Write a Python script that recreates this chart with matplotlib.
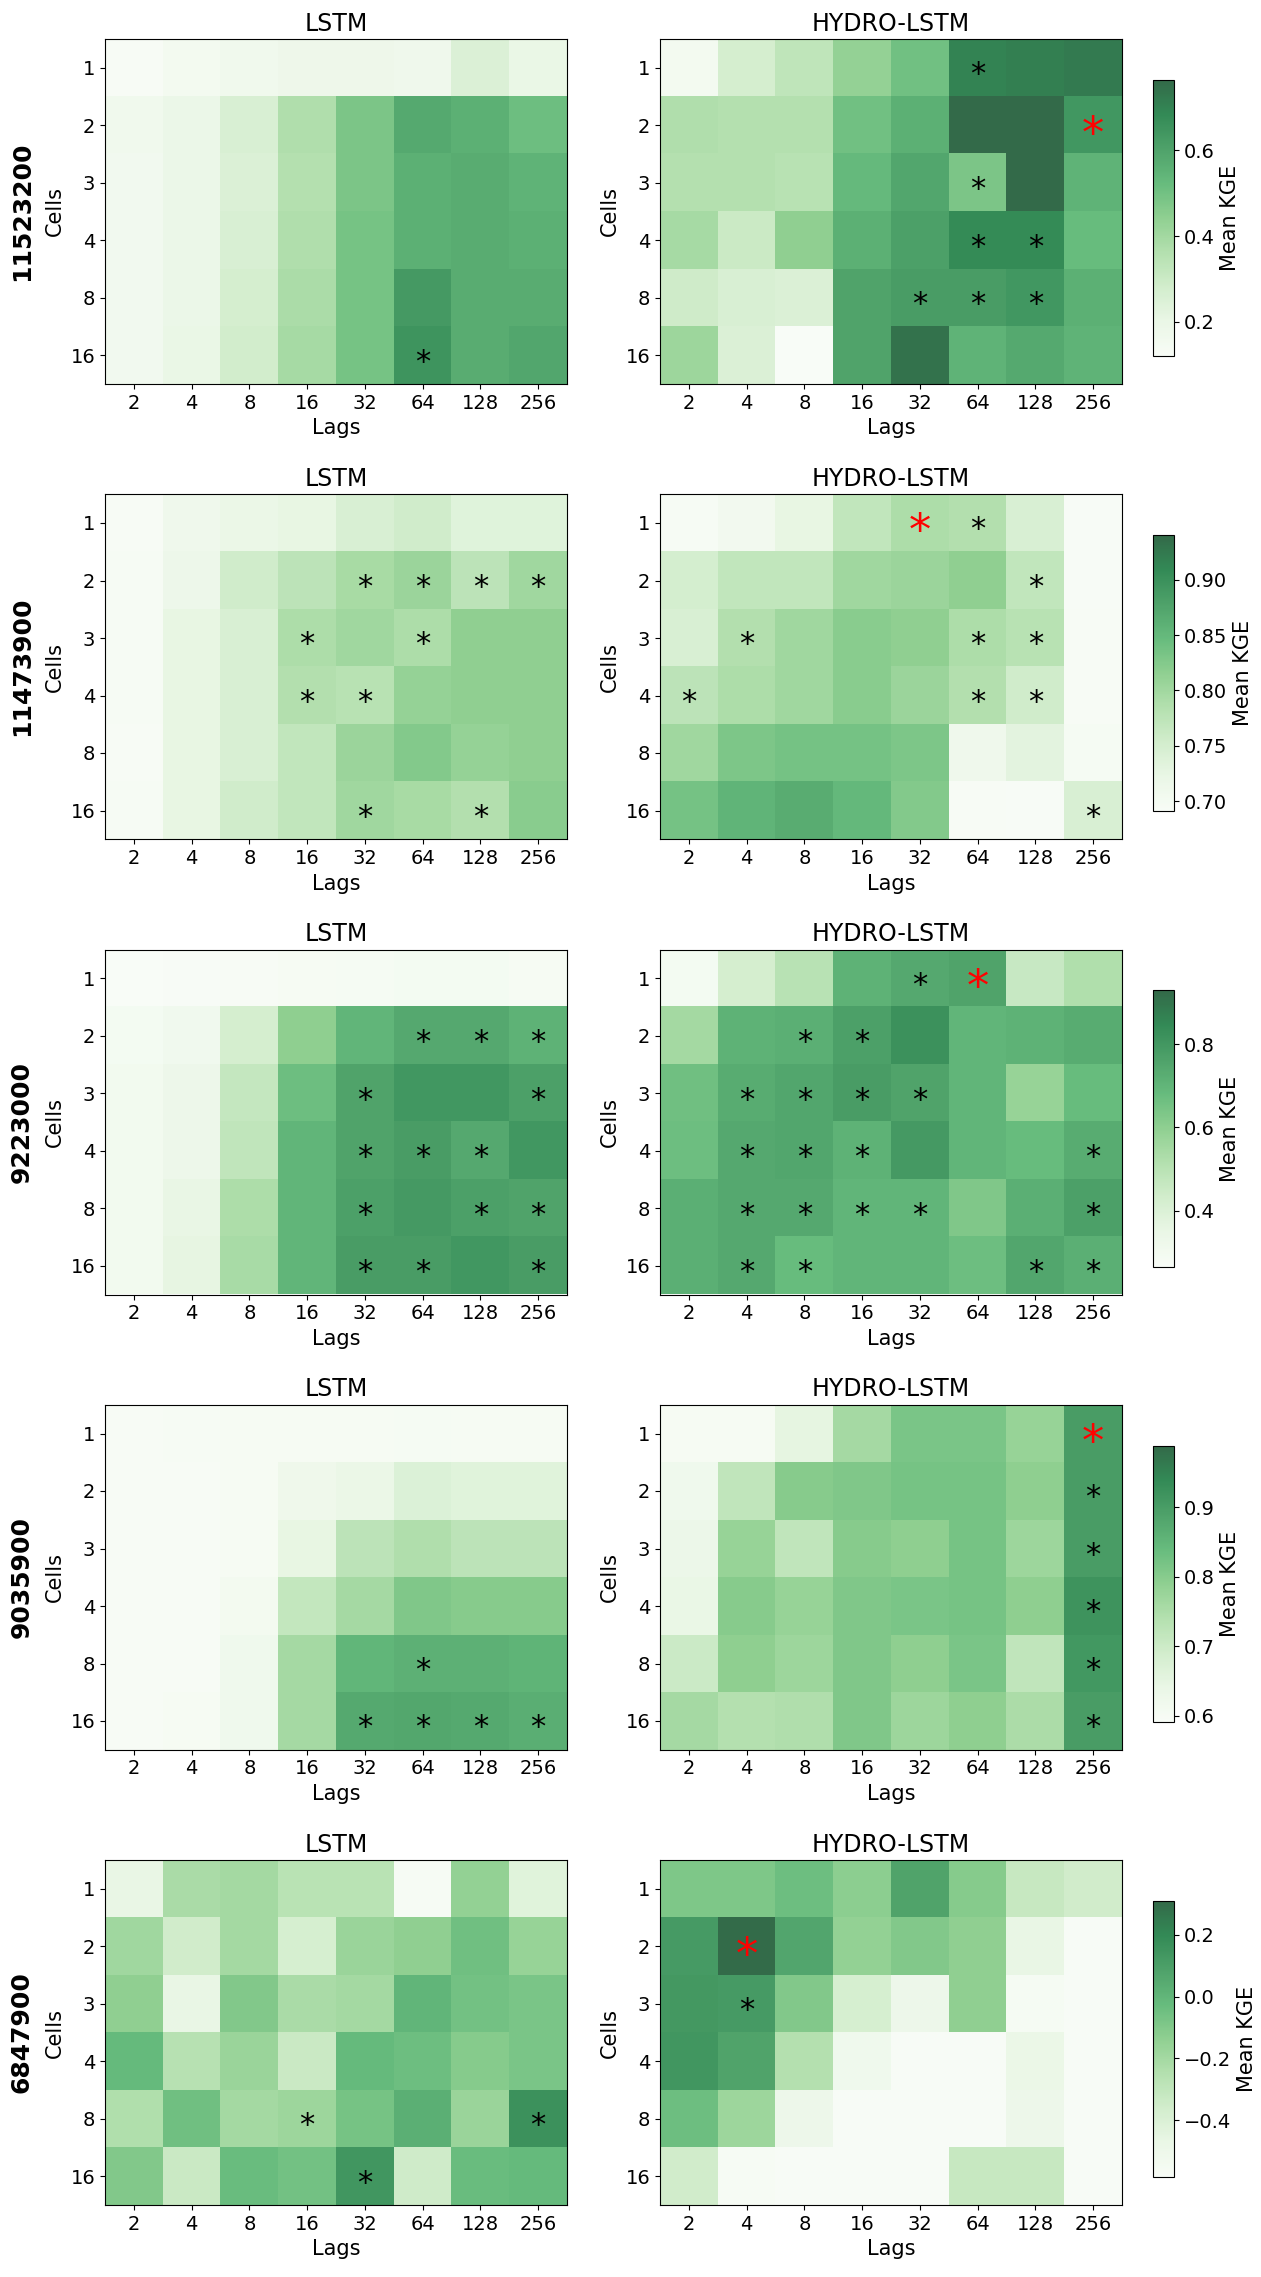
import numpy as np
import matplotlib.pyplot as plt

lags = [2, 4, 8, 16, 32, 64, 128, 256]
cells = [1, 2, 3, 4, 8, 16]
stations = ["11523200", "11473900", "9223000", "9035900", "6847900"]

# colorbar limits (min, max)
kge_limits = [(0.12, 0.764), (0.691, 0.94), (0.266, 0.929), (0.591, 0.989), (-0.584, 0.31)]
cbar_ticks = [[0.2, 0.4, 0.6], [0.70, 0.75, 0.80, 0.85, 0.90], [0.4, 0.6, 0.8],
              [0.6, 0.7, 0.8, 0.9], [-0.4, -0.2, 0.0, 0.2]]

# rows = cells, columns = lags
lstm_11523200 = [
    [0.13, 0.15, 0.165, 0.18, 0.18, 0.17, 0.25, 0.20],
    [0.165, 0.19, 0.26, 0.37, 0.48, 0.58, 0.56, 0.51],
    [0.16, 0.19, 0.25, 0.36, 0.48, 0.56, 0.57, 0.55],
    [0.16, 0.19, 0.26, 0.37, 0.49, 0.56, 0.57, 0.56],
    [0.16, 0.19, 0.27, 0.38, 0.49, 0.63, 0.57, 0.57],
    [0.16, 0.20, 0.28, 0.39, 0.49, 0.65, 0.57, 0.59],
]
hydro_11523200 = [
    [0.15, 0.27, 0.33, 0.43, 0.50, 0.70, 0.71, 0.72],
    [0.37, 0.36, 0.36, 0.50, 0.56, 0.76, 0.76, 0.64],
    [0.36, 0.36, 0.35, 0.53, 0.59, 0.48, 0.76, 0.55],
    [0.39, 0.30, 0.44, 0.56, 0.61, 0.68, 0.68, 0.52],
    [0.29, 0.26, 0.25, 0.60, 0.62, 0.62, 0.64, 0.56],
    [0.41, 0.25, 0.12, 0.60, 0.74, 0.55, 0.58, 0.55],
]
lstm_11473900 = [
    [0.693, 0.710, 0.720, 0.725, 0.745, 0.755, 0.735, 0.735],
    [0.695, 0.715, 0.755, 0.775, 0.795, 0.805, 0.775, 0.800],
    [0.695, 0.725, 0.745, 0.790, 0.800, 0.790, 0.815, 0.815],
    [0.695, 0.725, 0.745, 0.785, 0.780, 0.810, 0.815, 0.815],
    [0.693, 0.725, 0.745, 0.770, 0.805, 0.825, 0.810, 0.815],
    [0.695, 0.725, 0.755, 0.770, 0.800, 0.795, 0.785, 0.820],
]
hydro_11473900 = [
    [0.695, 0.705, 0.725, 0.770, 0.790, 0.785, 0.745, 0.692],
    [0.750, 0.770, 0.770, 0.800, 0.805, 0.815, 0.770, 0.692],
    [0.745, 0.785, 0.800, 0.820, 0.815, 0.790, 0.780, 0.693],
    [0.775, 0.790, 0.800, 0.820, 0.805, 0.785, 0.755, 0.693],
    [0.800, 0.830, 0.835, 0.835, 0.830, 0.710, 0.730, 0.697],
    [0.835, 0.855, 0.865, 0.850, 0.825, 0.693, 0.692, 0.745],
]
lstm_9223000 = [
    [0.268, 0.270, 0.275, 0.280, 0.285, 0.290, 0.290, 0.280],
    [0.290, 0.310, 0.420, 0.600, 0.700, 0.740, 0.740, 0.710],
    [0.300, 0.330, 0.470, 0.670, 0.760, 0.800, 0.800, 0.770],
    [0.300, 0.330, 0.480, 0.700, 0.760, 0.780, 0.740, 0.800],
    [0.300, 0.350, 0.530, 0.700, 0.770, 0.790, 0.770, 0.760],
    [0.300, 0.360, 0.540, 0.700, 0.780, 0.780, 0.800, 0.780],
]
hydro_9223000 = [
    [0.290, 0.420, 0.500, 0.710, 0.740, 0.760, 0.460, 0.520],
    [0.550, 0.710, 0.720, 0.770, 0.820, 0.700, 0.710, 0.730],
    [0.660, 0.730, 0.750, 0.780, 0.760, 0.700, 0.580, 0.680],
    [0.670, 0.740, 0.750, 0.710, 0.790, 0.700, 0.680, 0.730],
    [0.720, 0.740, 0.740, 0.700, 0.700, 0.630, 0.720, 0.770],
    [0.720, 0.740, 0.680, 0.700, 0.700, 0.670, 0.750, 0.720],
]
lstm_9035900 = [
    [0.597, 0.598, 0.599, 0.600, 0.600, 0.601, 0.600, 0.600],
    [0.595, 0.595, 0.600, 0.625, 0.635, 0.670, 0.660, 0.660],
    [0.595, 0.595, 0.600, 0.645, 0.725, 0.745, 0.725, 0.725],
    [0.595, 0.595, 0.610, 0.715, 0.760, 0.810, 0.800, 0.800],
    [0.595, 0.595, 0.620, 0.760, 0.850, 0.860, 0.860, 0.855],
    [0.596, 0.600, 0.620, 0.760, 0.875, 0.880, 0.875, 0.865],
]
hydro_9035900 = [
    [0.600, 0.600, 0.650, 0.760, 0.815, 0.815, 0.780, 0.900],
    [0.620, 0.720, 0.800, 0.810, 0.820, 0.820, 0.790, 0.900],
    [0.630, 0.780, 0.720, 0.800, 0.790, 0.820, 0.770, 0.900],
    [0.640, 0.800, 0.780, 0.810, 0.815, 0.820, 0.790, 0.920],
    [0.700, 0.790, 0.770, 0.810, 0.790, 0.815, 0.720, 0.910],
    [0.760, 0.740, 0.745, 0.810, 0.770, 0.790, 0.750, 0.900],
]
lstm_6847900 = [
    [-0.47, -0.22, -0.20, -0.27, -0.27, -0.57, -0.15, -0.43],
    [-0.19, -0.36, -0.20, -0.38, -0.17, -0.14, -0.05, -0.16],
    [-0.14, -0.47, -0.10, -0.22, -0.20, 0.00, -0.06, -0.08],
    [-0.02, -0.26, -0.17, -0.33, -0.02, -0.04, -0.11, -0.08],
    [-0.24, -0.05, -0.20, -0.18, -0.07, 0.03, -0.17, 0.16],
    [-0.10, -0.33, -0.03, -0.06, 0.14, -0.35, -0.03, -0.02],
]
hydro_6847900 = [
    [-0.09, -0.09, -0.04, -0.13, 0.08, -0.11, -0.32, -0.36],
    [0.12, 0.30, 0.07, -0.15, -0.10, -0.14, -0.47, -0.58],
    [0.13, 0.12, -0.10, -0.38, -0.50, -0.14, -0.56, -0.58],
    [0.14, 0.08, -0.25, -0.52, -0.58, -0.58, -0.48, -0.58],
    [-0.04, -0.18, -0.50, -0.58, -0.58, -0.58, -0.50, -0.58],
    [-0.36, -0.57, -0.58, -0.58, -0.58, -0.32, -0.32, -0.58],
]

# significance marks as (cells, lag)
stars_lstm = [
    [(16, 64)],
    [(2, 32), (2, 64), (2, 128), (2, 256), (3, 16), (3, 64), (4, 16), (4, 32), (16, 32), (16, 128)],
    [(2, 64), (2, 128), (2, 256), (3, 32), (3, 256), (4, 32), (4, 64), (4, 128),
     (8, 32), (8, 128), (8, 256), (16, 32), (16, 64), (16, 256)],
    [(8, 64), (16, 32), (16, 64), (16, 128), (16, 256)],
    [(8, 16), (8, 256), (16, 32)],
]
stars_hydro = [
    [(1, 64), (3, 64), (4, 64), (4, 128), (8, 32), (8, 64), (8, 128)],
    [(1, 64), (2, 128), (3, 4), (3, 64), (3, 128), (4, 2), (4, 64), (4, 128), (16, 256)],
    [(1, 32), (2, 8), (2, 16), (3, 4), (3, 8), (3, 16), (3, 32), (4, 4), (4, 8), (4, 16), (4, 256),
     (8, 4), (8, 8), (8, 16), (8, 32), (8, 256), (16, 4), (16, 8), (16, 128), (16, 256)],
    [(2, 256), (3, 256), (4, 256), (8, 256), (16, 256)],
    [(3, 4)],
]
best_hydro = [(2, 256), (1, 32), (1, 64), (1, 256), (2, 4)]

lstm_data = [lstm_11523200, lstm_11473900, lstm_9223000, lstm_9035900, lstm_6847900]
hydro_data = [hydro_11523200, hydro_11473900, hydro_9223000, hydro_9035900, hydro_6847900]

W, H = 1261, 2277
fig = plt.figure(figsize=(W / 100, H / 100), dpi=100)
plt.rcParams['font.size'] = 14

for i, st in enumerate(stations):
    top = 39 + i * 455.25
    bottom = 1 - (top + 345) / H
    vmin, vmax = kge_limits[i]
    panels = [("LSTM", lstm_data[i], stars_lstm[i], None, 105),
              ("HYDRO-LSTM", hydro_data[i], stars_hydro[i], best_hydro[i], 660)]
    for title, data, stars, best, left in panels:
        ax = fig.add_axes([left / W, bottom, 462 / W, 345 / H])
        im = ax.imshow(np.array(data), cmap='Greens', alpha=0.8, vmin=vmin, vmax=vmax,
                       aspect='auto', interpolation='nearest')
        ax.set_xticks(range(len(lags)))
        ax.set_xticklabels(lags, fontsize=14)
        ax.set_yticks(range(len(cells)))
        ax.set_yticklabels(cells, fontsize=14)
        ax.set_xlabel("Lags", fontsize=15)
        ax.set_ylabel("Cells", fontsize=15)
        ax.set_title(title, fontsize=17)
        for c, l in stars:
            ax.text(lags.index(l), cells.index(c) + 0.12, "*", ha='center', va='center',
                    fontsize=22, color='black')
        if best is not None:
            c, l = best
            ax.text(lags.index(l), cells.index(c) + 0.17, "*", ha='center',
                    va='center', fontsize=32, color='red')
    fig.text(22 / W, 1 - (top + 172) / H, st, rotation=90, fontsize=18, fontweight='bold',
             ha='center', va='center')
    cax = fig.add_axes([1153 / W, 1 - (top + 41 + 276) / H, 21 / W, 276 / H])
    cb = fig.colorbar(im, cax=cax)
    cb.set_ticks(cbar_ticks[i])
    cb.ax.tick_params(labelsize=14)
    cb.set_label("Mean KGE", fontsize=15)

fig.savefig("out.png", dpi=100)
